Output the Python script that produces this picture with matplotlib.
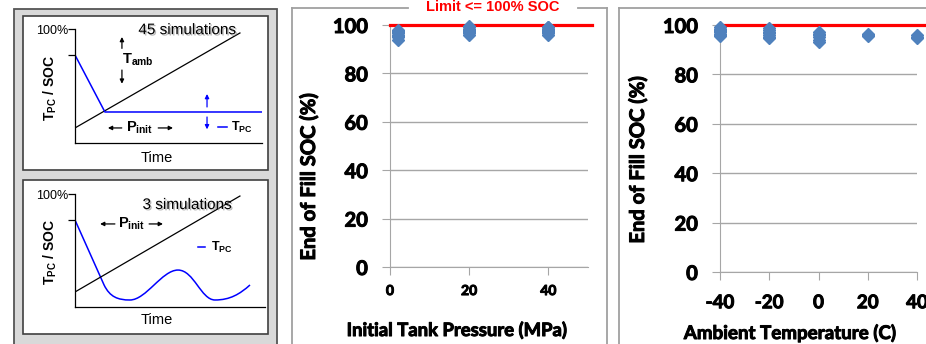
import matplotlib
matplotlib.use('Agg')
import matplotlib.pyplot as plt
import matplotlib.patheffects as pe
from matplotlib.path import Path
from matplotlib.patches import PathPatch, Rectangle

plt.rcParams['mathtext.fontset'] = 'custom'
plt.rcParams['mathtext.rm'] = 'Liberation Sans'
plt.rcParams['mathtext.bf'] = 'Liberation Sans:bold'
plt.rcParams['mathtext.it'] = 'Liberation Sans:italic'
plt.rcParams['axes.unicode_minus'] = False

# ---- data -------------------------------------------------------------
# end-of-fill SOC vs initial tank pressure (MPa)
p_x = [2] * 8 + [20] * 8 + [40] * 8
p_soc = [94, 95, 95.5, 96, 96.5, 97, 97.5, 98,
         96, 96.5, 97, 97.5, 98, 98.5, 99, 99.5,
         96, 96.5, 97, 97.5, 98, 98.5, 99, 99.3]

# end-of-fill SOC vs ambient temperature (C)
t_x = [-40] * 8 + [-20] * 7 + [0] * 6 + [20] * 3 + [40] * 3
t_soc = [95.5, 96, 96.5, 97, 97.5, 98, 98.5, 99.2,
         94.7, 95.3, 96, 96.7, 97.3, 98, 98.6,
         93.3, 94, 95, 95.8, 96.5, 97.2,
         95.6, 96, 96.4,
         94.8, 95.3, 95.8]

soc_limit = 100
limit_x_p = [0, 51]
limit_x_t = [-39, 43]
y_ticks = [0, 20, 40, 60, 80, 100]
p_ticks = [0, 20, 40]
t_ticks = [-40, -20, 0, 20, 40]

# schematic curves (arbitrary 0-10 units)
top_blue_x = [0, 1.6, 10]
top_blue_y = [7.72, 2.72, 2.72]
top_black_x = [0, 8.82]
top_black_y = [1.32, 9.65]
bot_black_x = [0, 8.68]
bot_black_y = [1.33, 9.82]
# start, straight drop, then cubic bezier segments (ctrl, ctrl, end)
bot_blue_pts = [(0, 7.70), (1.53, 1.95),
                (1.84, 0.88), (2.26, 0.62), (2.89, 0.62),
                (3.74, 0.62), (4.58, 3.27), (5.42, 3.27),
                (6.26, 3.27), (6.63, 0.62), (7.37, 0.62),
                (8.16, 0.62), (8.68, 1.15), (9.21, 1.95)]

W, H = 926, 344
fig = plt.figure(figsize=(W / 100, H / 100), dpi=100)


def box(l, t, r, b):
    return [l / W, 1 - b / H, (r - l) / W, (b - t) / H]


# background layer in pixel coordinates
bg = fig.add_axes([0, 0, 1, 1])
bg.set_xlim(0, W)
bg.set_ylim(H, 0)
bg.axis('off')
bg.add_patch(Rectangle((14, 9), 263, 345, facecolor='#d9d9d9',
                       edgecolor='#555555', lw=1.3))
bg.add_patch(Rectangle((23, 16), 245, 154, facecolor='white',
                       edgecolor='#404040', lw=1.2))
bg.add_patch(Rectangle((23, 180), 245, 154, facecolor='white',
                       edgecolor='#404040', lw=1.2))
fc = '#a0a0a0'
bg.plot([292, 292], [8, 350], color=fc, lw=1.3)
bg.plot([607, 607], [8, 350], color=fc, lw=1.3)
bg.plot([292, 408], [8, 8], color=fc, lw=1.3)
bg.plot([578, 607], [8, 8], color=fc, lw=1.3)
bg.plot([619, 619], [8, 350], color=fc, lw=1.3)
bg.plot([619, 930], [8, 8], color=fc, lw=1.3)

heavy = [pe.withStroke(linewidth=0.7, foreground='black')]
bold = dict(family='Lato', fontweight='bold', path_effects=heavy)
grid_c = '#a6a6a6'
blue = '#4f81bd'


def excel_axes(rect, xlim, xticks, xfs, xpad):
    ax = fig.add_axes(rect)
    ax.patch.set_visible(False)
    ax.set_xlim(*xlim)
    ax.set_ylim(0, 100)
    ax.set_yticks(y_ticks)
    ax.set_xticks(xticks)
    ax.grid(axis='y', color=grid_c, lw=1)
    ax.set_axisbelow(True)
    for s in ['top', 'right']:
        ax.spines[s].set_visible(False)
    for s in ['left', 'bottom']:
        ax.spines[s].set_color(grid_c)
    ax.tick_params(axis='y', length=6, color=grid_c, pad=10, labelsize=14.5)
    ax.tick_params(axis='x', length=6, color=grid_c, pad=xpad, labelsize=xfs)
    for lab in ax.get_yticklabels() + ax.get_xticklabels():
        lab.set_fontfamily('Lato')
        lab.set_fontweight('bold')
        lab.set_path_effects(heavy)
    return ax


ax1 = excel_axes(box(390, 25, 588, 267), (0, 50), p_ticks, 10, 7)
ax1.plot(limit_x_p, [soc_limit] * 2, color='red', lw=2.3, clip_on=False, zorder=3)
ax1.plot(p_x, p_soc, 'D', color=blue, ms=5.8, clip_on=False, zorder=4)

ax2 = excel_axes(box(720, 25, 917, 272), (-40, 40), t_ticks, 13.5, 10)
ax2.plot(limit_x_t, [soc_limit] * 2, color='red', lw=2.3, clip_on=False, zorder=3)
ax2.plot(t_x, t_soc, 'D', color=blue, ms=5.8, clip_on=False, zorder=4)

fig.text(493 / W, 1 - 7 / H, 'Limit <= 100% SOC', color='red', fontsize=10.5,
         family='Liberation Sans', fontweight='bold', ha='center', va='center')
fig.text(457 / W, 1 - 330 / H, 'Initial Tank Pressure (MPa)', fontsize=13.3,
         ha='center', va='center', **bold)
fig.text(790 / W, 1 - 333 / H, 'Ambient Temperature (C)', fontsize=13.5,
         ha='center', va='center', **bold)
fig.text(309 / W, 1 - 177 / H, 'End of Fill SOC (%)', fontsize=14.5,
         rotation=90, ha='center', va='center', **bold)
fig.text(638 / W, 1 - 160 / H, 'End of Fill SOC (%)', fontsize=14.5,
         rotation=90, ha='center', va='center', **bold)


# ---- schematics -------------------------------------------------------
def mini_axes(rect, tick2):
    ax = fig.add_axes(rect)
    ax.patch.set_visible(False)
    ax.set_xlim(0, 10)
    ax.set_ylim(0, 10)
    for s in ['top', 'right']:
        ax.spines[s].set_visible(False)
    for s in ['left', 'bottom']:
        ax.spines[s].set_color('black')
        ax.spines[s].set_linewidth(0.9)
    ax.set_xticks([])
    ax.set_yticks([tick2, 10])
    ax.set_yticklabels(['', '100%'], family='Liberation Sans', fontsize=9)
    ax.tick_params(axis='y', length=5, width=0.9, pad=0)
    return ax


arrow = dict(arrowstyle='-|>', lw=0.9, mutation_scale=6, shrinkA=0, shrinkB=0)
sans = 'Liberation Sans'
shadow = [pe.SimplePatchShadow(offset=(1, -1), shadow_rgbFace='#888888', alpha=0.6),
          pe.Normal()]

m1 = mini_axes(box(75, 29, 262, 143), 7.72)
m1.plot(top_black_x, top_black_y, color='black', lw=0.9)
m1.plot(top_blue_x, top_blue_y, color='#0000ff', lw=1.1)
m1.text(5.99, 9.9, '45 simulations', family=sans, fontsize=11, ha='center',
        va='center', path_effects=shadow)
m1.text(2.51, 7.28, r'$\mathbf{T_{amb}}$', fontsize=10.5, ha='left', va='center')
m1.annotate('', xy=(2.51, 9.3), xytext=(2.51, 8.3), arrowprops=dict(arrow, color='black'))
m1.annotate('', xy=(2.51, 5.2), xytext=(2.51, 6.4), arrowprops=dict(arrow, color='black'))
m1.text(3.45, 1.32, r'$\mathbf{P_{init}}$', fontsize=10.5, ha='center', va='center')
m1.annotate('', xy=(1.76, 1.32), xytext=(2.5, 1.32), arrowprops=dict(arrow, color='black'))
m1.annotate('', xy=(5.24, 1.32), xytext=(4.45, 1.32), arrowprops=dict(arrow, color='black'))
m1.annotate('', xy=(7.06, 4.3), xytext=(7.06, 3.16), arrowprops=dict(arrow, color='#0000ff'))
m1.annotate('', xy=(7.06, 1.2), xytext=(7.06, 2.28), arrowprops=dict(arrow, color='#0000ff'))
m1.plot([7.65, 8.13], [1.4, 1.4], color='#0000ff', lw=1.1)
m1.text(8.35, 1.4, r'$\mathbf{T_{PC}}$', fontsize=9, ha='left', va='center')

m2 = mini_axes(box(75, 194, 265, 307), 7.70)
m2.plot(bot_black_x, bot_black_y, color='black', lw=0.9)
codes = [Path.MOVETO, Path.LINETO] + [Path.CURVE4] * (len(bot_blue_pts) - 2)
m2.add_patch(PathPatch(Path(bot_blue_pts, codes), facecolor='none',
                       edgecolor='#0000ff', lw=1.1))
m2.text(5.89, 9.03, '3 simulations', family=sans, fontsize=11, ha='center',
        va='center', path_effects=shadow)
m2.text(2.97, 7.35, r'$\mathbf{P_{init}}$', fontsize=10.5, ha='center', va='center')
m2.annotate('', xy=(1.32, 7.35), xytext=(2.1, 7.35), arrowprops=dict(arrow, color='black'))
m2.annotate('', xy=(4.63, 7.35), xytext=(3.9, 7.35), arrowprops=dict(arrow, color='black'))
m2.plot([6.47, 6.84], [5.31, 5.31], color='#0000ff', lw=1.1)
m2.text(7.15, 5.31, r'$\mathbf{T_{PC}}$', fontsize=9, ha='left', va='center')

for yy in [158, 320]:
    fig.text(157 / W, 1 - yy / H, 'Time', family=sans, fontsize=10.5,
             ha='center', va='center')
for yy in [88, 252]:
    fig.text(50 / W, 1 - yy / H, r'$\mathbf{T_{PC}\ /\ SOC}$', fontsize=10,
             rotation=90, ha='center', va='center')

fig.savefig('out.png', dpi=100)
